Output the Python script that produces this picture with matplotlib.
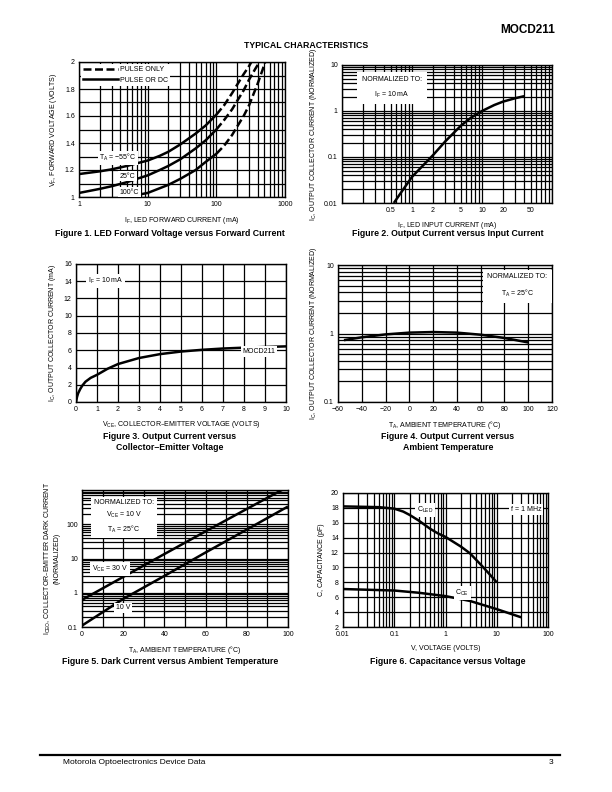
import matplotlib
matplotlib.use("Agg")
import matplotlib.pyplot as plt
import numpy as np
from matplotlib.lines import Line2D
from matplotlib.ticker import LogLocator, MultipleLocator, NullFormatter

plt.rcParams['font.family'] = ['Liberation Sans', 'DejaVu Sans']
plt.rcParams['mathtext.default'] = 'regular'

# ---- Figure 1: VF vs IF ----
f1_if_m55 = [1, 2, 3, 5, 7, 10, 15, 20, 30, 50, 70, 100, 130, 170, 200, 250, 300, 340]
f1_vf_m55 = [1.17, 1.19, 1.205, 1.23, 1.25, 1.27, 1.305, 1.335, 1.39, 1.47, 1.53,
             1.61, 1.68, 1.77, 1.83, 1.91, 1.97, 2.02]
f1_if_25 = [1, 2, 3, 5, 7, 10, 15, 20, 30, 50, 70, 100, 130, 170, 200, 250, 300, 370, 450]
f1_vf_25 = [1.03, 1.06, 1.08, 1.11, 1.135, 1.16, 1.20, 1.23, 1.28, 1.36, 1.42, 1.50,
            1.57, 1.65, 1.71, 1.79, 1.87, 1.95, 2.02]
f1_if_100 = [4.5, 7, 10, 15, 20, 30, 50, 70, 100, 130, 170, 200, 250, 300, 400, 470, 530]
f1_vf_100 = [1.0, 1.015, 1.03, 1.065, 1.09, 1.135, 1.20, 1.26, 1.32, 1.38, 1.46, 1.52,
             1.60, 1.68, 1.84, 1.94, 2.02]
f1_pulse_limit = 100  # mA, above this the curves are pulse only

# ---- Figure 2: normalized IC vs IF ----
f2_if = [0.55, 0.7, 1, 1.5, 2, 3, 5, 7, 10, 15, 20, 30, 40]
f2_ic = [0.010, 0.017, 0.037, 0.07, 0.11, 0.22, 0.48, 0.72, 1.0, 1.35, 1.6, 1.9, 2.1]

# ---- Figure 3: IC vs VCE ----
f3_vce = [0, 0.05, 0.1, 0.2, 0.3, 0.45, 0.7, 1, 1.5, 2, 3, 4, 5, 6, 7, 8, 9, 10]
f3_ic = [0, 0.6, 1.0, 1.5, 1.9, 2.35, 2.8, 3.15, 3.85, 4.4, 5.1, 5.55, 5.85, 6.05,
         6.2, 6.3, 6.38, 6.45]

# ---- Figure 4: normalized IC vs TA ----
f4_ta = [-55, -40, -20, 0, 20, 40, 60, 80, 100]
f4_ic = [0.80, 0.88, 0.97, 1.03, 1.05, 1.03, 0.96, 0.86, 0.74]

# ---- Figure 5: dark current vs TA ----
f5_ta = [0, 20, 40, 60, 80, 100]
f5_iceo_30v = [0.62, 2.9, 13.5, 62, 280, 1250]
f5_iceo_10v = [0.11, 0.66, 3.1, 15, 70, 330]

# ---- Figure 6: capacitance vs voltage ----
f6_v_led = [0.01, 0.05, 0.1, 0.15, 0.2, 0.3, 0.5, 0.7, 1, 2, 3, 5, 7, 10]
f6_c_led = [18.2, 18.1, 17.9, 17.5, 17.05, 16.3, 15.2, 14.6, 14.1, 12.8, 11.9,
            10.3, 9.2, 8.0]
f6_v_ce = [0.01, 0.1, 0.3, 1, 3, 10, 30]
f6_c_ce = [7.1, 6.9, 6.6, 6.15, 5.5, 4.4, 3.3]

W, H = 612, 792
fig = plt.figure(figsize=(W / 100, H / 100), dpi=100)

FS = 5
CURVE = dict(color='black', lw=1.8, solid_capstyle='butt', solid_joinstyle='round')
WBOX = dict(fc='white', ec='none', pad=1.2)


def box(l, t, r, b):
    return fig.add_axes([l / W, 1 - b / H, (r - l) / W, (b - t) / H])


def style(ax):
    ax.tick_params(which='both', length=0, labelsize=FS, pad=3)
    ax.grid(which='both', color='black', lw=0.9)
    ax.set_axisbelow(True)
    for s in ax.spines.values():
        s.set_linewidth(1.0)


def logminor(axis):
    axis.set_minor_locator(LogLocator(base=10, subs=np.arange(2, 10)))
    axis.set_minor_formatter(NullFormatter())


def caption(x, y, s):
    fig.text(x / W, 1 - y / H, s, ha='center', va='center', fontsize=6.3,
             fontweight='bold', linespacing=1.4)


# Figure 1
ax = box(79, 62, 285, 197)
ax.set_xscale('log')
ax.set_xlim(1, 1000)
ax.set_ylim(1, 2)
ax.set_xticks([1, 10, 100, 1000], ['1', '10', '100', '1000'])
logminor(ax.xaxis)
ax.yaxis.set_minor_locator(MultipleLocator(0.1))
ax.set_yticks([1, 1.2, 1.4, 1.6, 1.8, 2], ['1', '1.2', '1.4', '1.6', '1.8', '2'])
style(ax)
for xs, ys in [(f1_if_m55, f1_vf_m55), (f1_if_25, f1_vf_25), (f1_if_100, f1_vf_100)]:
    xs = np.array(xs); ys = np.array(ys)
    lo = xs <= f1_pulse_limit
    hi = xs >= f1_pulse_limit
    ax.plot(xs[lo], ys[lo], **CURVE)
    ax.plot(xs[hi], ys[hi], dashes=(3.2, 1.4), color='black', lw=1.8)
ax.text(3.7, 1.29, 'T$_A$ = −55°C', fontsize=FS, ha='center', va='center', bbox=WBOX)
ax.text(5.1, 1.155, '25°C', fontsize=FS, ha='center', va='center', bbox=WBOX)
ax.text(5.4, 1.035, '100°C', fontsize=FS, ha='center', va='center', bbox=WBOX)
h = [Line2D([], [], color='black', lw=1.8, dashes=(3.2, 1.4)),
     Line2D([], [], color='black', lw=1.8)]
ax.legend(h, ['PULSE ONLY', 'PULSE OR DC'], loc='upper left', fontsize=FS,
          handlelength=5, frameon=True, fancybox=False, framealpha=1,
          edgecolor='none', borderaxespad=0.3, labelspacing=0.5,
          handletextpad=0.3, borderpad=0.3)
ax.set_xlabel('I$_F$, LED FORWARD CURRENT (mA)', fontsize=FS, labelpad=5)
ax.set_ylabel('V$_F$, FORWARD VOLTAGE (VOLTS)', fontsize=FS, labelpad=4)
caption(170, 234, 'Figure 1. LED Forward Voltage versus Forward Current')

# Figure 2
ax = box(342, 65, 552, 203)
ax.set_xscale('log')
ax.set_yscale('log')
ax.set_xlim(0.1, 100)
ax.set_ylim(0.01, 10)
ax.set_xticks([0.5, 1, 2, 5, 10, 20, 50], ['0.5', '1', '2', '5', '10', '20', '50'])
ax.set_yticks([0.01, 0.1, 1, 10], ['0.01', '0.1', '1', '10'])
logminor(ax.yaxis)
ax.xaxis.set_minor_locator(LogLocator(base=10, subs=np.arange(1, 10)))
ax.xaxis.set_minor_formatter(NullFormatter())
style(ax)
ax.plot(f2_if, f2_ic, **CURVE)
ax.text(0.52, 3.2, 'NORMALIZED TO:\nI$_F$ = 10 mA', fontsize=FS, ha='center',
        va='center', linespacing=1.9, bbox=dict(fc='white', ec='none', pad=3.5))
ax.set_xlabel('I$_F$, LED INPUT CURRENT (mA)', fontsize=FS, labelpad=4)
ax.set_ylabel('I$_C$, OUTPUT COLLECTOR CURRENT (NORMALIZED)', fontsize=FS, labelpad=4)
caption(448, 234, 'Figure 2. Output Current versus Input Current')

# Figure 3
ax = box(76, 264, 286, 402)
ax.set_xlim(0, 10)
ax.set_ylim(0, 16)
ax.xaxis.set_major_locator(MultipleLocator(1))
ax.yaxis.set_major_locator(MultipleLocator(2))
style(ax)
ax.plot(f3_vce, f3_ic, **CURVE)
ax.text(1.4, 14, 'I$_F$ = 10 mA', fontsize=FS, ha='center', va='center', bbox=WBOX)
ax.text(8.7, 5.85, 'MOCD211', fontsize=FS, ha='center', va='center', bbox=WBOX)
ax.set_xlabel('V$_{CE}$, COLLECTOR–EMITTER VOLTAGE (VOLTS)', fontsize=FS, labelpad=4)
ax.set_ylabel('I$_C$, OUTPUT COLLECTOR CURRENT (mA)', fontsize=FS, labelpad=4)
caption(170, 442, 'Figure 3. Output Current versus\nCollector–Emitter Voltage')

# Figure 4
ax = box(338, 265, 552, 402)
ax.set_yscale('log')
ax.set_xlim(-60, 120)
ax.set_ylim(0.1, 10)
ax.xaxis.set_major_locator(MultipleLocator(20))
ax.set_yticks([0.1, 1, 10], ['0.1', '1', '10'])
logminor(ax.yaxis)
style(ax)
ax.plot(f4_ta, f4_ic, **CURVE)
ax.text(91, 5.0, 'NORMALIZED TO:\nT$_A$ = 25°C', fontsize=FS, ha='center',
        va='center', linespacing=2.0, bbox=dict(fc='white', ec='none', pad=3))
ax.set_xlabel('T$_A$, AMBIENT TEMPERATURE (°C)', fontsize=FS, labelpad=4)
ax.set_ylabel('I$_C$, OUTPUT COLLECTOR CURRENT (NORMALIZED)', fontsize=FS, labelpad=4)
caption(448, 442, 'Figure 4. Output Current versus\nAmbient Temperature')

# Figure 5
ax = box(82, 490, 288, 627)
ax.set_yscale('log')
ax.set_xlim(0, 100)
ax.set_ylim(0.1, 1000)
ax.xaxis.set_major_locator(MultipleLocator(20))
ax.xaxis.set_minor_locator(MultipleLocator(10))
ax.set_yticks([0.1, 1, 10, 100, 1000], ['0.1', '1', '10', '100', ''])
logminor(ax.yaxis)
style(ax)
ax.plot(f5_ta, f5_iceo_30v, **CURVE)
ax.plot(f5_ta, f5_iceo_10v, **CURVE)
ax.text(20.4, 165, 'NORMALIZED TO:\nV$_{CE}$ = 10 V\nT$_A$ = 25°C', fontsize=FS,
        ha='center', va='center', linespacing=1.5,
        bbox=dict(fc='white', ec='none', pad=2))
ax.text(13.6, 4.9, 'V$_{CE}$ = 30 V', fontsize=FS, ha='center', va='center', bbox=WBOX)
ax.text(20, 0.36, '10 V', fontsize=FS, ha='center', va='center', bbox=WBOX)
ax.set_xlabel('T$_A$, AMBIENT TEMPERATURE (°C)', fontsize=FS, labelpad=4)
ax.set_ylabel('I$_{CEO}$, COLLECTOR–EMITTER DARK CURRENT\n(NORMALIZED)', fontsize=FS,
              labelpad=4)
caption(170, 662, 'Figure 5. Dark Current versus Ambient Temperature')

# Figure 6
ax = box(343, 493, 548, 627)
ax.set_xscale('log')
ax.set_xlim(0.01, 100)
ax.set_ylim(2, 20)
ax.set_xticks([0.01, 0.1, 1, 10, 100], ['0.01', '0.1', '1', '10', '100'])
logminor(ax.xaxis)
ax.yaxis.set_major_locator(MultipleLocator(2))
style(ax)
ax.plot(f6_v_led, f6_c_led, **CURVE)
ax.plot(f6_v_ce, f6_c_ce, **CURVE)
ax.text(0.40, 17.7, 'C$_{LED}$', fontsize=FS, ha='center', va='center', bbox=WBOX)
ax.text(38, 17.8, 'f = 1 MHz', fontsize=FS, ha='center', va='center', bbox=WBOX)
ax.text(2.1, 6.6, 'C$_{CE}$', fontsize=FS, ha='center', va='center', bbox=WBOX)
ax.set_xlabel('V, VOLTAGE (VOLTS)', fontsize=FS, labelpad=5)
ax.set_ylabel('C, CAPACITANCE (pF)', fontsize=FS, labelpad=4)
caption(448, 662, 'Figure 6. Capacitance versus Voltage')

# page header / footer
fig.text(555 / W, 1 - 30 / H, 'MOCD211', ha='right', va='center', fontsize=8.5,
         fontweight='heavy')
fig.text(306 / W, 1 - 45 / H, 'TYPICAL CHARACTERISTICS', ha='center', va='center',
         fontsize=6.3, fontweight='bold')
fig.add_artist(Line2D([40 / W, 560 / W], [1 - 755 / H, 1 - 755 / H], color='black',
                      lw=1.6, transform=fig.transFigure))
fig.text(63 / W, 1 - 763 / H, 'Motorola Optoelectronics Device Data', ha='left',
         va='center', fontsize=6)
fig.text(553 / W, 1 - 763 / H, '3', ha='right', va='center', fontsize=6)

fig.savefig('out.png', dpi=100)
